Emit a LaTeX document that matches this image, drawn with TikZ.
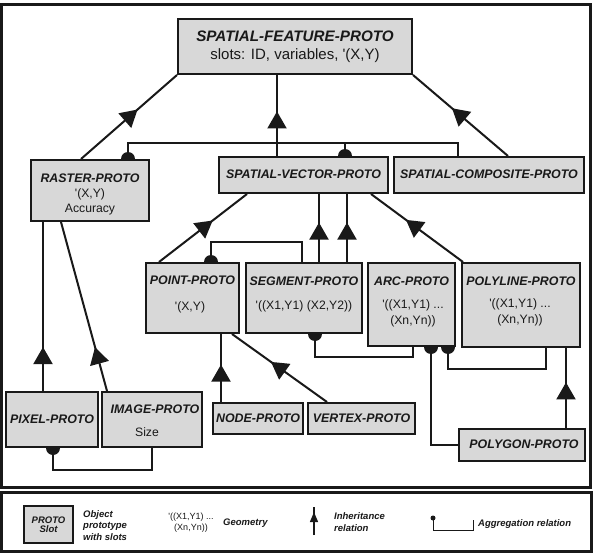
\documentclass[tikz,border=0pt]{standalone}
\usepackage{fontspec}
\newfontfamily\lsans{Liberation Sans}
\usetikzlibrary{arrows.meta,decorations.markings}
\definecolor{ink}{RGB}{25,25,25}
\definecolor{boxgray}{RGB}{216,216,216}
\newcommand{\aggup}[1]{\fill[ink] (#1) ++(-7,0) arc[start angle=180,end angle=360,radius=7] -- cycle;}
\newcommand{\aggdown}[1]{\fill[ink] (#1) ++(-7,0) arc[start angle=180,end angle=0,radius=7] -- cycle;}
\begin{document}
\begin{tikzpicture}[x=1pt,y=-1pt,
  box/.style={draw=ink, fill=boxgray, line width=2pt, inner sep=0pt},
  ttl/.style={font=\lsans\fontsize{12.4}{14}\selectfont\bfseries\itshape, text=ink, inner sep=0pt},
  body/.style={font=\lsans\fontsize{12.2}{16}\selectfont, text=ink, align=center, inner sep=0pt},
  lgt/.style={font=\lsans\fontsize{9.5}{11.5}\selectfont\bfseries\itshape, text=ink, inner sep=0pt, align=left},
  lgb/.style={font=\lsans\fontsize{9}{11}\selectfont, text=ink, inner sep=0pt, align=center},
  inh/.style={line width=2pt, color=ink, postaction={decorate},
    decoration={markings, mark=at position #1 with {\arrow{Triangle[width=19pt,length=17pt]}}}},
  inhs/.style={line width=1.5pt, color=ink, postaction={decorate},
    decoration={markings, mark=at position #1 with {\arrow{Triangle[width=8pt,length=10pt]}}}},
  agg/.style={line width=2pt, draw=ink},
]
\useasboundingbox (0,0) rectangle (598,554);
\fill[white] (0,0) rectangle (598,554);
\draw[line width=3pt, ink] (1.5,4.5) rectangle (590,487);
\draw[line width=3pt, ink] (1.5,492) rectangle (591,551);

% boxes
\node[box, minimum width=234pt, minimum height=55pt] (feature) at (295,46.5) {};
\node[box, minimum width=118pt, minimum height=61pt] (raster) at (90,190.5) {};
\node[box, minimum width=169pt, minimum height=36pt] (vector) at (303.5,175) {};
\node[box, minimum width=190pt, minimum height=36pt] (composite) at (489,175) {};
\node[box, minimum width=93pt, minimum height=70pt] (point) at (192.5,298) {};
\node[box, minimum width=116pt, minimum height=70pt] (segment) at (304,298) {};
\node[box, minimum width=87pt, minimum height=83pt] (arc) at (411.5,304.5) {};
\node[box, minimum width=118pt, minimum height=84pt] (polyline) at (521,305) {};
\node[box, minimum width=92pt, minimum height=55pt] (pixel) at (52,419.5) {};
\node[box, minimum width=100pt, minimum height=55pt] (image) at (152,419.5) {};
\node[box, minimum width=90pt, minimum height=31pt] (nodep) at (258,418.5) {};
\node[box, minimum width=107pt, minimum height=31pt] (vertex) at (361.5,418.5) {};
\node[box, minimum width=126pt, minimum height=32pt] (polygon) at (522,445) {};

% texts
\node[ttl, font=\lsans\fontsize{15.2}{17}\selectfont\bfseries\itshape] (feature-t) at (295,36) {SPATIAL-FEATURE-PROTO};
\node[body, font=\lsans\fontsize{15}{17}\selectfont] (feature-b) at (295,56) {slots: ID, variables, '(X,Y)};
\node[ttl] (raster-t) at (90,178) {RASTER-PROTO};
\node[body, font=\lsans\fontsize{12.2}{15}\selectfont] (raster-b) at (90,201.5) {'(X,Y)\\Accuracy};
\node[ttl] (vector-t) at (303.5,174) {SPATIAL-VECTOR-PROTO};
\node[ttl] (composite-t) at (489,174) {SPATIAL-COMPOSITE-PROTO};
\node[ttl] (point-t) at (192.5,280) {POINT-PROTO};
\node[body] (point-b) at (190,307) {'(X,Y)};
\node[ttl] (segment-t) at (304,281) {SEGMENT-PROTO};
\node[body] (segment-b) at (304,306) {'((X1,Y1) (X2,Y2))};
\node[ttl] (arc-t) at (411.5,281) {ARC-PROTO};
\node[body] (arc-b) at (413,313.5) {'((X1,Y1) ...\\(Xn,Yn))};
\node[ttl] (polyline-t) at (521,281) {POLYLINE-PROTO};
\node[body] (polyline-b) at (520,312) {'((X1,Y1) ...\\(Xn,Yn))};
\node[ttl] (pixel-t) at (52,419) {PIXEL-PROTO};
\node[ttl] (image-t) at (155,409) {IMAGE-PROTO};
\node[body] (image-b) at (147,432) {Size};
\node[ttl] (nodep-t) at (258,418) {NODE-PROTO};
\node[ttl] (vertex-t) at (361.5,418) {VERTEX-PROTO};
\node[ttl] (polygon-t) at (524,444) {POLYGON-PROTO};

% inheritance
\draw[inh=0.59] (81,0 |- raster.north) -- (feature.south west);
\draw[inh=0.55] (277,0 |- vector.north) -- (277,0 |- feature.south);
\draw[inh=0.59] (508,0 |- composite.north) -- (feature.south east);
\draw[inh=0.61] (159,0 |- point.north) -- (247,0 |- vector.south);
\draw[inh=0.58] (319,0 |- segment.north) -- (319,0 |- vector.south);
\draw[inh=0.58] (347,0 |- segment.north) -- (347,0 |- vector.south);
\draw[inh=0.62] (463,0 |- polyline.north) -- (371,0 |- vector.south);
\draw[inh=0.55] (221,0 |- nodep.north) -- (221,0 |- point.south);
\draw[inh=0.59] (327,0 |- vertex.north) -- (232,0 |- point.south);
\draw[inh=0.57] (566,0 |- polygon.north) -- (566,0 |- polyline.south);
\draw[inh=0.26] (43,0 |- pixel.north) -- (43,0 |- raster.south);
\draw[inh=0.26] (107,0 |- image.north) -- (61,0 |- raster.south);

% aggregation
\draw[agg] (128,0 |- raster.north) |- (458,143) -- (458,0 |- composite.north);
\draw[agg] (345,0 |- vector.north) -- (345,143);
\aggup{128,0 |- raster.north}
\aggup{345,0 |- vector.north}
\draw[agg] (211,0 |- point.north) |- (302,242) -- (302,0 |- segment.north);
\aggup{211,0 |- point.north}
\draw[agg] (315,0 |- segment.south) |- (413,357) -- (413,0 |- arc.south);
\aggdown{315,0 |- segment.south}
\draw[agg] (431,0 |- arc.south) |- (polygon.west);
\aggdown{431,0 |- arc.south}
\draw[agg] (448,0 |- arc.south) |- (546,369) -- (546,0 |- polyline.south);
\aggdown{448,0 |- arc.south}
\draw[agg] (53,0 |- pixel.south) |- (152,470) -- (152,0 |- image.south);
\aggdown{53,0 |- pixel.south}

% legend
\node[box, line width=2.5pt, minimum width=49pt, minimum height=37pt] (lgbox) at (48.5,524.5) {};
\node[lgt, align=center, font=\lsans\fontsize{9.5}{9.5}\selectfont\bfseries\itshape] (lgbox-t) at (lgbox) {PROTO\\Slot};
\node[lgt, anchor=west] (lgobj) at (83,525.5) {Object\\prototype\\with slots};
\node[lgb] (lggeo) at (191,522.5) {'((X1,Y1) ...\\(Xn,Yn))};
\node[lgt, anchor=west] (lggeo-t) at (223,523) {Geometry};
\coordinate (li1) at (314,507);
\coordinate (li2) at (314,535);
\draw[inhs=0.82] (li2) -- (li1);
\node[lgt, anchor=west] (lginh) at (334,522) {Inheritance\\relation};
\coordinate (la1) at (433,518);
\coordinate (la2) at (473,520);
\draw[line width=1pt, ink] (la1) |- (473,530) -- (la2);
\fill[ink] (la1) circle[radius=2.5];
\node[lgt, anchor=west] (lgagg) at (478,524) {Aggregation relation};
\end{tikzpicture}
\end{document}
